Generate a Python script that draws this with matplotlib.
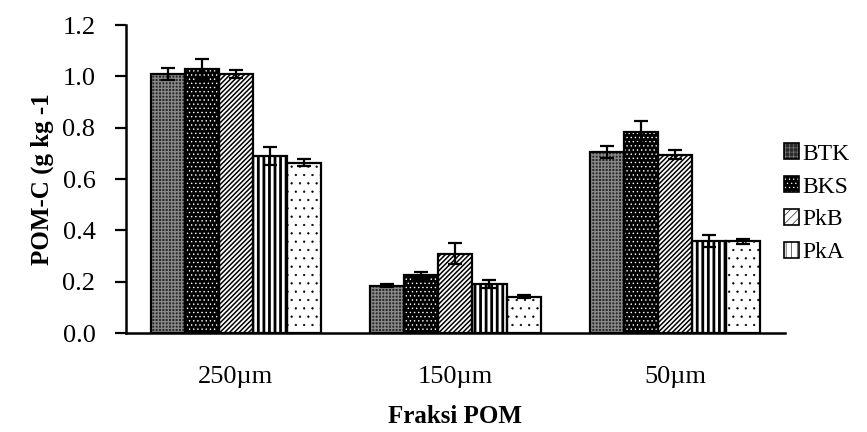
import matplotlib

matplotlib.use("Agg")
import matplotlib.pyplot as plt  # noqa: E402
import numpy as np  # noqa: E402
from matplotlib.patches import Patch  # noqa: E402

fractions = ["250\u00b5m", "150\u00b5m", "50\u00b5m"]
series = ["BTK", "BKS", "PkB", "PkA", "PkL"]
btk = [1.01, 0.185, 0.705]
bks = [1.03, 0.225, 0.785]
pkb = [1.008, 0.31, 0.695]
pka = [0.69, 0.19, 0.358]
pkl = [0.663, 0.142, 0.358]
btk_err = [0.023, 0.007, 0.022]
bks_err = [0.039, 0.013, 0.043]
pkb_err = [0.016, 0.039, 0.018]
pka_err = [0.035, 0.015, 0.024]
pkl_err = [0.014, 0.005, 0.01]

values = [btk, bks, pkb, pka, pkl]
errors = [btk_err, bks_err, pkb_err, pka_err, pkl_err]
# face colour, hatch, hatch colour, hatch line width
styles = [
    ("#2a2a2a", "+++++", "#8a8a8a", 0.9),
    ("#000000", "....", "#ffffff", 0.5),
    ("#ffffff", "///////", "#000000", 1.1),
    ("#ffffff", "|||", "#000000", 2.0),
    ("#ffffff", "..", "#000000", 0.4),
]

plt.rcParams["font.family"] = ["Liberation Serif", "DejaVu Serif"]

fig = plt.figure(figsize=(8.67, 4.32), dpi=100)
ax = fig.add_axes([0.1453, 0.229, 0.76, 0.713])

x = np.arange(len(fractions))
width = 0.155
handles = []
for i, (vals, errs, (face, hatch, hcol, hlw)) in enumerate(
        zip(values, errors, styles)):
    plt.rcParams["hatch.linewidth"] = hlw
    pos = x + (i - 2) * width
    ax.bar(pos, vals, width, color=face, hatch=hatch, edgecolor=hcol,
           linewidth=0, zorder=2)
    ax.bar(pos, vals, width, fill=False, edgecolor="black", linewidth=1.6,
           zorder=3)
    ax.errorbar(pos, vals, yerr=errs, fmt="none", ecolor="black",
                elinewidth=1.6, capsize=5, capthick=1.6, zorder=4)
    fill = Patch(facecolor=face, hatch=hatch[:4], edgecolor=hcol, linewidth=0)
    outline = Patch(fill=False, edgecolor="black", linewidth=1.2)
    handles.append((fill, outline))

ax.set_xlim(-0.5, 2.5)
ax.set_ylim(0, 1.2)
ticks = np.arange(0, 1.21, 0.2)
ax.set_yticks(ticks)
ax.set_yticklabels([f"{v:.1f}" for v in ticks])
ax.set_xticks(x)
ax.set_xticklabels(fractions)
ax.tick_params(axis="y", direction="out", length=8, width=1.6, pad=14,
               labelsize=19)
ax.tick_params(axis="x", length=0, pad=24, labelsize=19)
for side in ("top", "right"):
    ax.spines[side].set_visible(False)
for side in ("left", "bottom"):
    ax.spines[side].set_linewidth(1.8)

ax.set_ylabel("POM-C (g kg -1", fontsize=18, fontweight="bold", labelpad=6)
ax.set_xlabel("Fraksi POM", fontsize=18, fontweight="bold", labelpad=12)

fig.legend(handles[:4], series[:4], loc="upper left",
           bbox_to_anchor=(0.893, 0.69), frameon=False, fontsize=17,
           handlelength=0.65, handleheight=0.65, handletextpad=0.15,
           labelspacing=0.5, borderaxespad=0)

fig.savefig("out.png", dpi=100)
plt.close(fig)
